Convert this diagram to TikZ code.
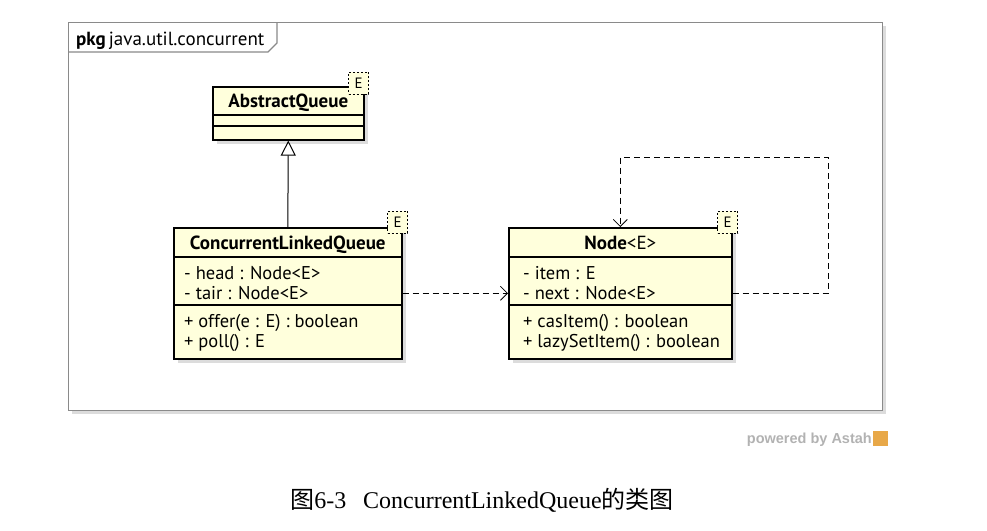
\documentclass[tikz,border=0pt]{standalone}
\usepackage{fontspec}
\setmainfont{Liberation Serif}
\newfontfamily\umlfont{PT Sans}
\newfontfamily\astahfont{Liberation Sans}
\newfontfamily\cjk{Noto Sans CJK SC}
\usetikzlibrary{arrows.meta,shadows,positioning}
\definecolor{classfill}{HTML}{FFFFDC}
\definecolor{framegray}{HTML}{8A8A8A}
\definecolor{shadowgray}{HTML}{DCDCDC}
\definecolor{astahorange}{HTML}{E8A848}
\tikzset{
  cls/.style={draw, line width=1.6pt, fill=classfill, anchor=north west, inner sep=0pt,
    drop shadow={shadow xshift=4pt, shadow yshift=-4pt, fill=shadowgray, opacity=1}},
  tmpl/.style={draw, dashed, dash pattern=on 2pt off 2pt, line width=0.8pt, fill=classfill,
    minimum width=20pt, minimum height=22pt, inner sep=0pt, font=\umlfont\fontsize{15}{15}\selectfont},
  clsname/.style={font=\umlfont\bfseries\fontsize{19}{20}\selectfont, inner sep=0pt, anchor=base},
  member/.style={font=\umlfont\fontsize{18.5}{20}\selectfont, align=left, anchor=north west, inner sep=0pt},
  divider/.style={line width=1.2pt},
  dep/.style={line width=0.8pt, dash pattern=on 6pt off 4pt, -{Straight Barb[length=7pt,width=14pt]}},
  inherit/.style={line width=1pt, -{Triangle[open,length=15pt,width=15pt]}},
}

\begin{document}
\begin{tikzpicture}[x=1pt,y=-1pt]
  \useasboundingbox (0,0) rectangle (987,530);

  % package frame
  \node[draw=framegray, line width=1.4pt, minimum width=814pt, minimum height=388pt,
    anchor=north west, inner sep=0pt,
    drop shadow={shadow xshift=3pt, shadow yshift=-3pt, fill=shadowgray, opacity=1}, fill=white]
    (pkg) at (68,22) {};
  \draw[framegray, line width=1.2pt] ([yshift=-30pt]pkg.north west) -- ++(200,0) -- ++(9,-9) -- ++(0,-21);
  \node[anchor=base west, font=\umlfont\fontsize{19}{20}\selectfont, inner sep=0pt] (pkgname)
    at ([xshift=8pt,yshift=-23pt]pkg.north west) {\textbf{pkg}\,java.util.concurrent};

  % classes
  \node[cls, minimum width=151pt, minimum height=53pt] (aq) at (212,86) {};
  \node[cls, minimum width=228pt, minimum height=131pt] (clq) at (173,227) {};
  \node[cls, minimum width=223pt, minimum height=131pt] (nd) at (508,227) {};

  % AbstractQueue
  \node[clsname] (aqname) at ([yshift=-21pt]aq.north) {AbstractQueue};
  \draw[divider] ([yshift=-29pt]aq.north west) -- ([yshift=-29pt]aq.north east);
  \draw[divider] ([yshift=-40pt]aq.north west) -- ([yshift=-40pt]aq.north east);
  \node[tmpl] (aqt) at ([xshift=-6pt,yshift=3pt]aq.north east) {E};

  % ConcurrentLinkedQueue
  \node[clsname] (clqname) at ([yshift=-22pt]clq.north) {ConcurrentLinkedQueue};
  \draw[divider] ([yshift=-30pt]clq.north west) -- ([yshift=-30pt]clq.north east);
  \draw[divider] ([yshift=-78pt]clq.north west) -- ([yshift=-78pt]clq.north east);
  \node[member] (clqattr) at ([xshift=11pt,yshift=-39pt]clq.north west)
    {- head : Node<E>\\- tair : Node<E>};
  \node[member] (clqops) at ([xshift=11pt,yshift=-87pt]clq.north west)
    {+ offer(e : E) : boolean\\+ poll() : E};
  \node[tmpl] (clqt) at ([xshift=-5pt,yshift=5pt]clq.north east) {E};

  % Node<E>
  \node[clsname] (ndname) at ([yshift=-22pt]nd.north) {Node\mdseries<E>};
  \draw[divider] ([yshift=-30pt]nd.north west) -- ([yshift=-30pt]nd.north east);
  \draw[divider] ([yshift=-78pt]nd.north west) -- ([yshift=-78pt]nd.north east);
  \node[member] (ndattr) at ([xshift=15pt,yshift=-39pt]nd.north west)
    {- item : E\\- next : Node<E>};
  \node[member] (ndops) at ([xshift=15pt,yshift=-87pt]nd.north west)
    {+ casItem() : boolean\\+ lazySetItem() : boolean};
  \node[tmpl] (ndt) at ([xshift=-5pt,yshift=5pt]nd.north east) {E};

  % relations
  \draw[inherit] (clq.north) -- (aq.south);
  \draw[dep] (clq.east) -- (nd.west);
  \coordinate (loop) at (828,157);
  \draw[dep] (nd.east) -| (loop) -| (nd.north);

  % footer
  \node[anchor=base east, font=\astahfont\bfseries\fontsize{14.5}{16}\selectfont, text=black!30, inner sep=0pt]
    (astah) at (872,443) {powered by Astah};
  \node[fill=astahorange, minimum size=15pt, inner sep=0pt, anchor=west] (astahlogo) at (873,438) {};
  \node[font=\fontsize{24}{28}\selectfont, inner sep=0pt] (caption) at (482,500)
    {{\cjk 图}6-3\hspace{0.7em}ConcurrentLinkedQueue{\cjk 的类图}};
\end{tikzpicture}
\end{document}
